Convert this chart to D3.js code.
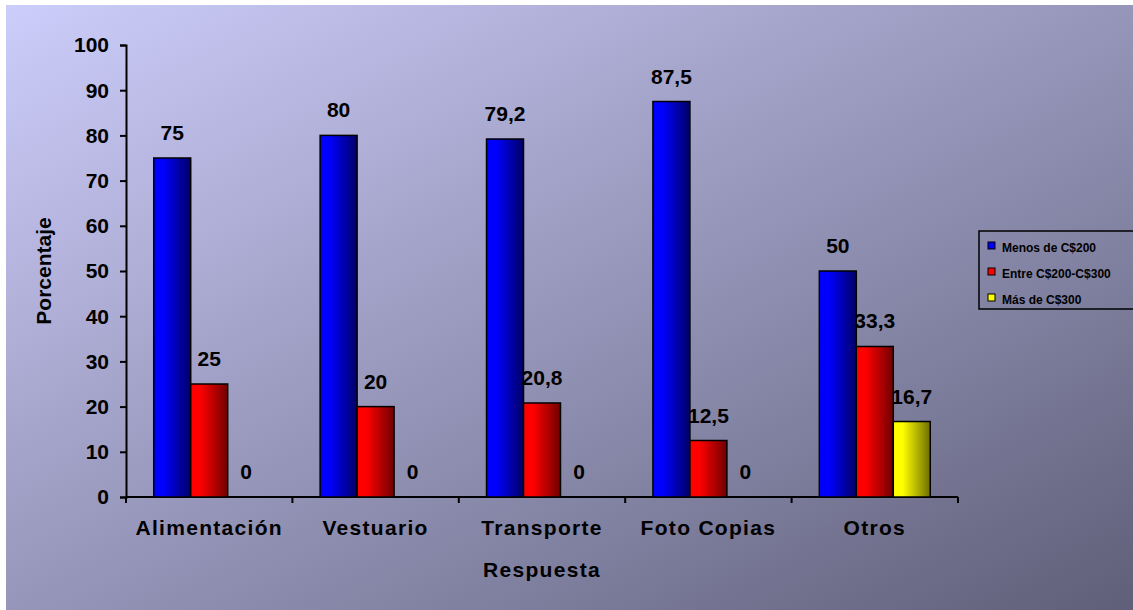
<meta charset="utf-8">
<script src="https://cdn.jsdelivr.net/npm/d3@7"></script>
<style>
    body { margin: 0; background: #ffffff; }
    text { font-family: "Liberation Sans", Arial, sans-serif; font-weight: bold; fill: #000; }
</style>
<div id="chart"></div>
<script>
// data
var categories = ["Alimentación", "Vestuario", "Transporte", "Foto Copias", "Otros"];
var seriesNames = ["Menos de C$200", "Entre C$200-C$300", "Más de C$300"];
var menos200 = [75, 80, 79.2, 87.5, 50];
var entre200_300 = [25, 20, 20.8, 12.5, 33.3];
var mas300 = [0, 0, 0, 0, 16.7];
var yTicks = [0, 10, 20, 30, 40, 50, 60, 70, 80, 90, 100];

var seriesValues = [menos200, entre200_300, mas300];
var seriesColors = [
    {light: "#0000ff", dark: "#000066", id: "gBlue"},
    {light: "#ff0000", dark: "#700000", id: "gRed"},
    {light: "#ffff00", dark: "#6e6e00", id: "gYellow"}
];

var width = 1133, height = 610;
var margin = {top: 45, left: 126, right: 175, bottom: 113};

var svg = d3.select("#chart").append("svg")
    .attr("width", width)
    .attr("height", height);

var defs = svg.append("defs");

// background gradient
var bg = defs.append("linearGradient").attr("id", "bgGrad")
    .attr("x1", 0).attr("y1", 0).attr("x2", 1).attr("y2", 1);
bg.append("stop").attr("offset", "0%").attr("stop-color", "#cdcdfb");
bg.append("stop").attr("offset", "100%").attr("stop-color", "#5f5f79");

// bar gradients (bright on the left, dark on the right)
seriesColors.forEach(function(c) {
    var g = defs.append("linearGradient").attr("id", c.id)
        .attr("x1", 0).attr("y1", 0).attr("x2", 1).attr("y2", 0);
    g.append("stop").attr("offset", "0%").attr("stop-color", c.light);
    g.append("stop").attr("offset", "25%").attr("stop-color", c.light);
    g.append("stop").attr("offset", "100%").attr("stop-color", c.dark);
});

svg.append("rect")
    .attr("x", 6).attr("y", 5)
    .attr("width", width - 6).attr("height", height - 5)
    .attr("fill", "url(#bgGrad)");

var x0 = d3.scaleBand()
    .domain(categories)
    .range([margin.left, width - margin.right])
    .paddingInner(0).paddingOuter(0);

var x1 = d3.scaleBand()
    .domain(d3.range(seriesNames.length))
    .range([0, x0.bandwidth()])
    .paddingInner(0).paddingOuter(0.75);

var y = d3.scaleLinear()
    .domain([0, 100])
    .range([height - margin.bottom, margin.top]);

// y axis
var yAxis = svg.append("g")
    .attr("transform", "translate(" + margin.left + ",0)")
    .call(d3.axisLeft(y).tickValues(yTicks).tickSize(6).tickPadding(11));
yAxis.select(".domain").attr("stroke", "#000").attr("stroke-width", 2);
yAxis.selectAll(".tick line").attr("stroke", "#000").attr("stroke-width", 2);
yAxis.selectAll(".tick text")
    .attr("dy", "0.33em")
    .style("font-size", "21px")
    .style("font-family", "'Liberation Sans', Arial, sans-serif");

// x axis with ticks between categories
var xAxis = svg.append("g")
    .attr("transform", "translate(0," + y(0) + ")");
xAxis.append("line")
    .attr("x1", margin.left).attr("x2", width - margin.right)
    .attr("stroke", "#000").attr("stroke-width", 2);
var bounds = categories.map(function(c) { return x0(c); }).concat([x0(categories[categories.length - 1]) + x0.bandwidth()]);
xAxis.selectAll(".xt").data(bounds).join("line")
    .attr("x1", function(d) { return d; }).attr("x2", function(d) { return d; })
    .attr("y1", 0).attr("y2", 6)
    .attr("stroke", "#000").attr("stroke-width", 2);
xAxis.selectAll(".cat").data(categories).join("text")
    .attr("x", function(d) { return x0(d) + x0.bandwidth() / 2; })
    .attr("y", 38)
    .attr("text-anchor", "middle")
    .style("font-size", "21px")
    .style("letter-spacing", "1.3px")
    .text(function(d) { return d; });

// bars
var groups = svg.append("g").selectAll("g")
    .data(categories).join("g")
    .attr("transform", function(d) { return "translate(" + x0(d) + ",0)"; });

var fmt = function(v) { return String(v).replace(".", ","); };

groups.each(function(cat, ci) {
    var g = d3.select(this);
    seriesValues.forEach(function(vals, si) {
        var v = vals[ci];
        if (v > 0) {
            g.append("rect")
                .attr("x", x1(si))
                .attr("y", y(v))
                .attr("width", x1.bandwidth())
                .attr("height", y(0) - y(v))
                .attr("fill", "url(#" + seriesColors[si].id + ")")
                .attr("stroke", "#000")
                .attr("stroke-width", 1.5);
        }
        g.append("text")
            .attr("x", x1(si) + x1.bandwidth() / 2)
            .attr("y", y(v) - 18)
            .attr("text-anchor", "middle")
            .style("font-size", "21px")
            .text(fmt(v));
    });
});

// axis titles
svg.append("text")
    .attr("x", (margin.left + width - margin.right) / 2)
    .attr("y", 577)
    .attr("text-anchor", "middle")
    .style("font-size", "21px")
    .style("letter-spacing", "1.3px")
    .text("Respuesta");

svg.append("text")
    .attr("transform", "translate(51," + (y(50)) + ") rotate(-90)")
    .attr("text-anchor", "middle")
    .style("font-size", "21px")
    .text("Porcentaje");

// legend
var legend = svg.append("g").attr("transform", "translate(979,231)");
legend.append("rect")
    .attr("x", 0).attr("y", 0)
    .attr("width", 160).attr("height", 78)
    .attr("fill", "none")
    .attr("stroke", "#000").attr("stroke-width", 1.5);
seriesNames.forEach(function(name, i) {
    legend.append("rect")
        .attr("x", 9).attr("y", 11 + i * 26)
        .attr("width", 7).attr("height", 7)
        .attr("fill", seriesColors[i].light)
        .attr("stroke", "#000").attr("stroke-width", 1);
    legend.append("text")
        .attr("x", 23).attr("y", 21 + i * 26)
        .style("font-size", "12px")
        .text(name);
});
</script>
